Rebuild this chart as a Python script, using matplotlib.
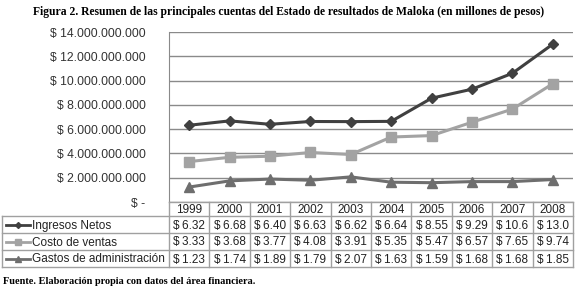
import matplotlib
matplotlib.use("Agg")
import matplotlib.pyplot as plt
from matplotlib.lines import Line2D
import numpy as np

years = ["1999", "2000", "2001", "2002", "2003", "2004", "2005", "2006", "2007", "2008"]
series_names = ["Ingresos Netos", "Costo de ventas", "Gastos de administración"]
ingresos = [6.32, 6.68, 6.40, 6.63, 6.62, 6.64, 8.55, 9.29, 10.6, 13.0]
costo = [3.33, 3.68, 3.77, 4.08, 3.91, 5.35, 5.47, 6.57, 7.65, 9.74]
gastos = [1.23, 1.74, 1.89, 1.79, 2.07, 1.63, 1.59, 1.68, 1.68, 1.85]
yticks = [0, 2e9, 4e9, 6e9, 8e9, 10e9, 12e9, 14e9]

title = "Figura 2. Resumen de las principales cuentas del Estado de resultados de Maloka (en millones de pesos)"
source = "Fuente. Elaboración propia con datos del área financiera."

colors = ["#404040", "#a3a3a3", "#6e6e6e"]
markers = ["D", "s", "^"]
msizes = [5, 7, 7]

W, H = 577, 291
fig = plt.figure(figsize=(W / 100, H / 100), dpi=100)
plt.rcParams['font.family'] = ['Liberation Sans', 'DejaVu Sans']

def fx(px):
    return px / W

def fy(py):
    return 1 - py / H

left, right, top, bottom = 169, 573, 32, 202
ax = fig.add_axes([fx(left), fy(bottom), fx(right - left), (bottom - top) / H])
x = np.arange(len(years))
data = [ingresos, costo, gastos]
for vals, c, m, ms in zip(data, colors, markers, msizes):
    ax.plot(x, np.array(vals) * 1e9, color=c, lw=2.2, marker=m, ms=ms,
            markeredgecolor=c, markerfacecolor=c)

ax.set_xlim(-0.5, len(years) - 0.5)
ax.set_ylim(0, 14e9)
ax.set_yticks(yticks)
def fmt(v):
    if v == 0:
        return "$ -"
    return "$ " + f"{v:,.0f}".replace(",", ".")
ax.set_yticklabels([fmt(v) for v in yticks], fontsize=8.7, color="#333333")
ax.tick_params(axis='y', length=0, pad=17)
ax.set_xticks([])
ax.grid(axis='y', color="#8a8a8a", lw=1.0)
for s in ["top", "right", "bottom"]:
    ax.spines[s].set_visible(False)
ax.spines["left"].set_color("#8a8a8a")

# Table below the plot
tcol = "#a0a0a0"
rows_px = [202, 216, 233, 250, 267]
leg_left = 2
col_edges = [left + (right - left) * i / len(years) for i in range(len(years) + 1)]

def hline(x0, x1, y):
    fig.add_artist(Line2D([fx(x0), fx(x1)], [fy(y), fy(y)], color=tcol, lw=1.0))

def vline(x0, y0, y1):
    fig.add_artist(Line2D([fx(x0), fx(x0)], [fy(y0), fy(y1)], color=tcol, lw=1.0))

hline(left, right, rows_px[0])
for y in rows_px[1:]:
    hline(leg_left, right, y)
for xe in col_edges:
    vline(xe, rows_px[0], rows_px[-1])
vline(leg_left, rows_px[1], rows_px[-1])

fs = 8.5
for i, yr in enumerate(years):
    cx = (col_edges[i] + col_edges[i + 1]) / 2
    fig.text(fx(cx), fy((rows_px[0] + rows_px[1]) / 2 + 4), yr, ha="center",
             va="baseline", fontsize=fs, color="#222222")

def vfmt(v):
    return f"$\u2009{v:.1f}" if v >= 10 else f"$\u2009{v:.2f}"

for r, (name, vals, c, m, ms) in enumerate(zip(series_names, data, colors, markers, msizes)):
    y0, y1 = rows_px[r + 1], rows_px[r + 2]
    cy = (y0 + y1) / 2
    fig.add_artist(Line2D([fx(6), fx(30)], [fy(cy), fy(cy)], color=c, lw=2.0))
    fig.add_artist(Line2D([fx(18)], [fy(cy)], color=c, marker=m, ms=ms - 2,
                          markeredgecolor=c, markerfacecolor=c, lw=0))
    fig.text(fx(32), fy(cy + 4), name, ha="left", va="baseline", fontsize=fs,
             color="#222222")
    for i, v in enumerate(vals):
        cx = (col_edges[i] + col_edges[i + 1]) / 2
        fig.text(fx(cx), fy(cy + 4), vfmt(v), ha="center", va="baseline", fontsize=fs,
                 color="#222222")

fig.text(fx(289), fy(12), title, ha="center", va="center", fontsize=8.4,
         fontweight="bold", family="Liberation Serif")
fig.text(fx(3), fy(282), source, ha="left", va="center", fontsize=7.4,
         fontweight="bold", family="Liberation Serif")

fig.savefig("out.png", dpi=100)
